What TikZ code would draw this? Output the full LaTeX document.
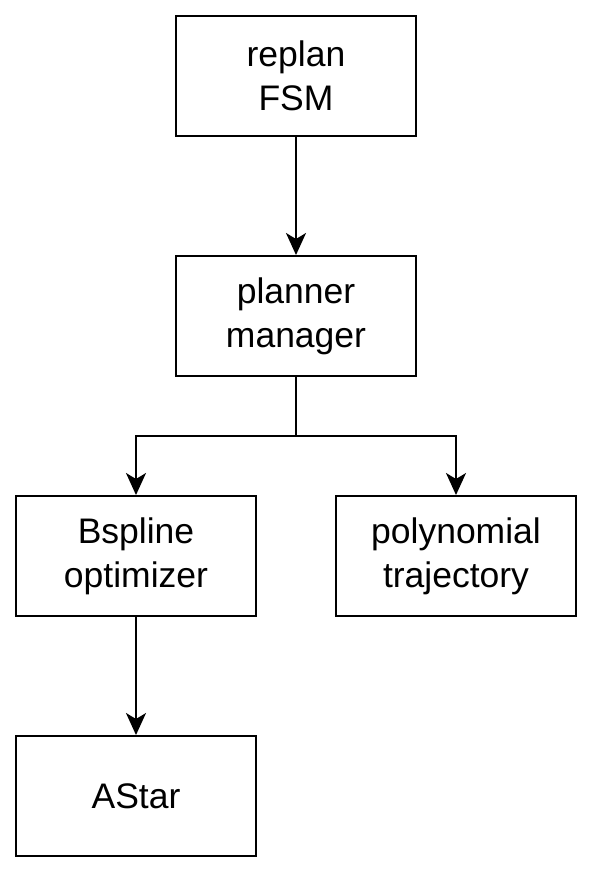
\documentclass[tikz,border=0pt]{standalone}
\usepackage{fontspec}
\setmainfont{Liberation Sans}
\usetikzlibrary{arrows.meta}
\begin{document}
\begin{tikzpicture}[x=1pt, y=-1pt,
      box/.style={draw, line width=2pt, minimum width=240pt, minimum height=120pt,
         align=center, font=\fontsize{35.5}{44}\selectfont, inner sep=0pt},
      arr/.style={line width=2pt, -{Stealth[length=22pt, width=20pt, inset=6pt]}}]
      \useasboundingbox (0, 0) rectangle (594, 874);
      \node[box] (fsm) at (296, 76) {replan\\FSM};
      \node[box] (planner) at (296, 316) {planner\\manager};
      \node[box] (bspline) at (136, 556) {Bspline\\optimizer};
      \node[box] (poly) at (456, 556) {polynomial\\trajectory};
      \node[box] (astar) at (136, 796) {AStar};
      \coordinate (split) at (296, 436);
      \draw[arr] (fsm) -- (planner);
      \draw[line width=2pt] (planner) -- (split);
      \draw[arr] (split) -| (bspline);
      \draw[arr] (split) -| (poly);
      \draw[arr] (bspline) -- (astar);
   \end{tikzpicture}
\end{document}
